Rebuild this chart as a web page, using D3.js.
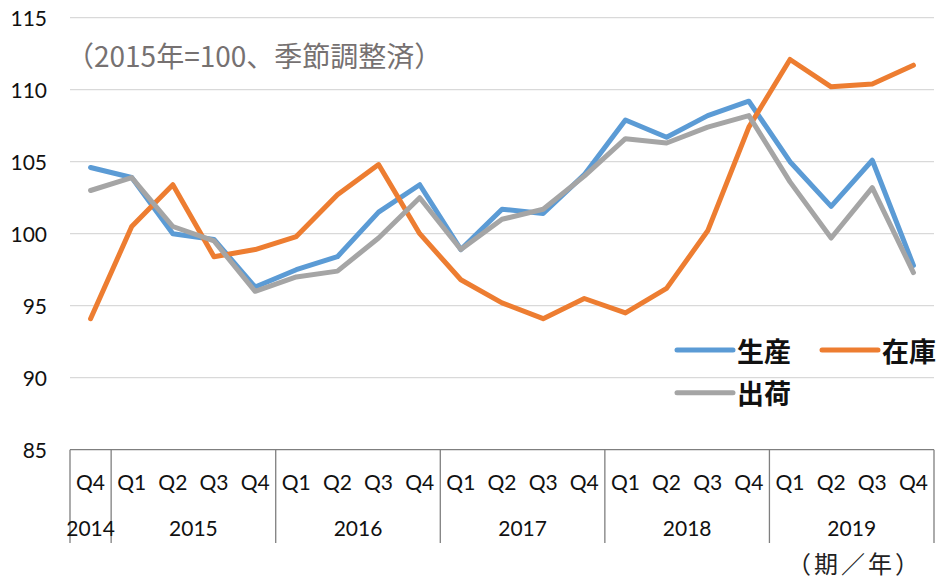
<!DOCTYPE html>
<html>
<head>
<meta charset="utf-8">
<script src="https://cdn.jsdelivr.net/npm/d3@7"></script>
<style>
  body { margin: 0; background: #fff; }
  svg { display: block; }
  .num { font-family: Lato, "Noto Sans", sans-serif; fill: #111; }
  .jp { font-family: "Noto Sans CJK JP", sans-serif; }
</style>
</head>
<body>
<div id="chart"></div>
<script>
// quarters, 2014Q4 .. 2019Q4
var quarters = ["Q4","Q1","Q2","Q3","Q4","Q1","Q2","Q3","Q4","Q1","Q2","Q3","Q4","Q1","Q2","Q3","Q4","Q1","Q2","Q3","Q4"];
var years = [
  {label: "2014", from: 0, to: 0},
  {label: "2015", from: 1, to: 4},
  {label: "2016", from: 5, to: 8},
  {label: "2017", from: 9, to: 12},
  {label: "2018", from: 13, to: 16},
  {label: "2019", from: 17, to: 20}
];
var seisan = [104.6,103.9,100.0,99.6,96.3,97.5,98.4,101.5,103.4,98.9,101.7,101.4,104.1,107.9,106.7,108.2,109.2,105.0,101.9,105.1,97.8];
var shukka = [103.0,103.9,100.5,99.5,96.0,97.0,97.4,99.7,102.5,98.9,101.0,101.7,104.0,106.6,106.3,107.4,108.2,103.6,99.7,103.2,97.3];
var zaiko  = [94.1,100.5,103.4,98.4,98.9,99.8,102.7,104.8,100.0,96.8,95.2,94.1,95.5,94.5,96.2,100.2,107.4,112.1,110.2,110.4,111.7];
var yTicks = [85,90,95,100,105,110,115];

var series = [
  {name: "生産", values: seisan, color: "#5B9BD5"},
  {name: "在庫", values: zaiko, color: "#ED7D31"},
  {name: "出荷", values: shukka, color: "#A5A5A5"}
];

var W = 942, H = 578;
var plotLeft = 70, plotRight = 934, plotTop = 17.7, plotBottom = 449.7;

var svg = d3.select("#chart").append("svg")
    .attr("width", W)
    .attr("height", H);

var xScale = d3.scaleBand()
    .domain(d3.range(quarters.length))
    .range([plotLeft, plotRight]);
var yScale = d3.scaleLinear()
    .domain([85, 115])
    .range([plotBottom, plotTop]);

// gridlines
svg.append("g").selectAll("line")
    .data(yTicks.filter(function(d) { return d > 85; }))
    .enter().append("line")
    .attr("x1", plotLeft).attr("x2", plotRight)
    .attr("y1", function(d) { return yScale(d); })
    .attr("y2", function(d) { return yScale(d); })
    .attr("stroke", "#D9D9D9")
    .attr("stroke-width", 1.3);

// y labels
svg.append("g").selectAll("text")
    .data(yTicks)
    .enter().append("text")
    .attr("class", "num")
    .attr("x", 47)
    .attr("y", function(d) { return yScale(d); })
    .attr("text-anchor", "end")
    .attr("dominant-baseline", "central")
    .style("font-size", "21px")
    .text(function(d) { return d; });

// x axis line
svg.append("line")
    .attr("x1", plotLeft).attr("x2", plotRight)
    .attr("y1", plotBottom).attr("y2", plotBottom)
    .attr("stroke", "#7F7F7F")
    .attr("stroke-width", 1.3);

// year separators
var seps = [0].concat(years.map(function(d) { return d.to + 1; }));
svg.append("g").selectAll("line")
    .data(seps)
    .enter().append("line")
    .attr("x1", function(d) { return d < quarters.length ? xScale(d) : plotRight; })
    .attr("x2", function(d) { return d < quarters.length ? xScale(d) : plotRight; })
    .attr("y1", plotBottom)
    .attr("y2", 543)
    .attr("stroke", "#7F7F7F")
    .attr("stroke-width", 1.3);

// quarter labels
svg.append("g").selectAll("text")
    .data(quarters)
    .enter().append("text")
    .attr("class", "num")
    .attr("x", function(d, i) { return xScale(i) + xScale.bandwidth() / 2; })
    .attr("y", 481)
    .attr("text-anchor", "middle")
    .attr("dominant-baseline", "central")
    .style("font-size", "21px")
    .text(function(d) { return d; });

// year labels
svg.append("g").selectAll("text")
    .data(years)
    .enter().append("text")
    .attr("class", "num")
    .attr("x", function(d) { return (xScale(d.from) + xScale(d.to) + xScale.bandwidth()) / 2; })
    .attr("y", 527)
    .attr("text-anchor", "middle")
    .attr("dominant-baseline", "central")
    .style("font-size", "21px")
    .text(function(d) { return d.label; });

// lines
var line = d3.line()
    .x(function(d, i) { return xScale(i) + xScale.bandwidth() / 2; })
    .y(function(d) { return yScale(d); });

svg.append("g").selectAll("path")
    .data(series)
    .enter().append("path")
    .attr("d", function(d) { return line(d.values); })
    .attr("fill", "none")
    .attr("stroke", function(d) { return d.color; })
    .attr("stroke-width", 5)
    .attr("stroke-linecap", "round")
    .attr("stroke-linejoin", "round");

// annotation
svg.append("text")
    .attr("class", "jp")
    .attr("x", 66)
    .attr("y", 55)
    .attr("dominant-baseline", "central")
    .style("font-size", "28px")
    .style("fill", "#767171")
    .text("（2015年=100、季節調整済）");

// legend
var legendPos = [
  {x: 677, y: 350},
  {x: 822, y: 350},
  {x: 677, y: 392.7}
];
var legend = svg.append("g").selectAll("g")
    .data(series)
    .enter().append("g")
    .attr("transform", function(d, i) { return "translate(" + legendPos[i].x + "," + legendPos[i].y + ")"; });
legend.append("line")
    .attr("x1", 0).attr("x2", 56)
    .attr("stroke", function(d) { return d.color; })
    .attr("stroke-width", 5)
    .attr("stroke-linecap", "round");
legend.append("text")
    .attr("class", "jp")
    .attr("x", 60)
    .attr("dominant-baseline", "central")
    .style("font-size", "27px")
    .style("font-weight", "bold")
    .style("fill", "#111")
    .text(function(d) { return d.name; });

// x unit
svg.append("text")
    .attr("class", "jp")
    .attr("x", 922)
    .attr("y", 562)
    .attr("text-anchor", "end")
    .attr("dominant-baseline", "central")
    .style("font-size", "24px")
    .style("letter-spacing", "3px")
    .style("fill", "#222")
    .text("（期／年）");
</script>
</body>
</html>
